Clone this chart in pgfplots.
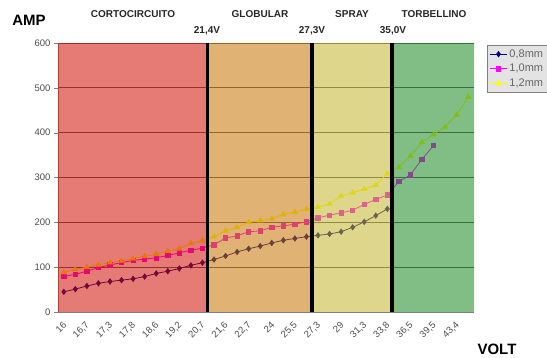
\documentclass[border=0pt]{standalone}
\usepackage{pgfplots}
\pgfplotsset{compat=1.18}
\usepackage{fontspec}
\setmainfont{Liberation Sans}
\definecolor{sA}{HTML}{000080}
\definecolor{sB}{HTML}{FF00FF}
\definecolor{sC}{HTML}{FFFF00}
\definecolor{rRed}{RGB}{209,13,2}
\definecolor{rOra}{RGB}{199,115,0}
\definecolor{rYel}{RGB}{195,181,42}
\definecolor{rGre}{RGB}{24,137,35}
\pgfplotsset{common/.style={
  at={(58pt,46pt)}, anchor=south west,
  scale only axis, width=416pt, height=269pt,
  xmin=0.5, xmax=36.5, ymin=0, ymax=600}}
\begin{document}
\begin{tikzpicture}[x=1pt,y=1pt]
\path[use as bounding box] (0,0) rectangle (547,358);
\begin{axis}[
  common,
  axis x line*=bottom, axis y line*=left,
  axis line style={gray},
  tick align=outside,
  xtick={1,3,...,35},
  xticklabels={16,{16,7},{17,3},{17,8},{18,6},{19,2},{20,7},{21,6},{22,7},24,{25,5},{27,3},29,{31,3},{33,8},{36,5},{39,5},{43,4}},
  minor xtick={0.5,1.5,...,36.5},
  x tick style={draw=none},
  minor x tick style={gray},
  minor tick length=4pt,
  ytick={0,100,...,600},
  y tick style={gray},
  major tick length=4pt,
  ymajorgrids, grid style={gray!70!black, line width=0.9pt},
  tick label style={font=\fontsize{9.5}{11}\selectfont, text=black!70},
  xticklabel style={rotate=45, anchor=east, inner sep=0.5pt, yshift=-6pt, xshift=-4pt},
  /pgf/number format/assume math mode=true,
  legend style={at={(1.031,0.993)}, anchor=north west, fill=gray!22, draw=gray,
    font=\fontsize{11}{13}\selectfont, text=black!60, row sep=1.5pt, inner sep=2.5pt},
  legend cell align=left,
]
\addplot[sA, line width=0.8pt, mark=diamond*, mark size=2.6pt, mark options={solid}] coordinates {
(1,45)(2,51)(3,58)(4,64)(5,68)(6,71)(7,74)(8,79)(9,86)(10,91)(11,97)(12,104)(13,110)
(14,117)(15,125)(16,134)(17,141)(18,147)(19,154)(20,160)(21,164)(22,168)
(23,171)(24,174)(25,179)(26,189)(27,201)(28,215)(29,230)};
\addlegendentry{0,8mm}
\addplot[sB, line width=0.8pt, mark=square*, mark size=2.2pt] coordinates {
(1,79)(2,84)(3,91)(4,99)(5,105)(6,110)(7,115)(8,118)(9,121)(10,126)(11,132)(12,138)(13,142)
(14,150)(15,165)(16,170)(17,179)(18,181)(19,189)(20,192)(21,196)(22,201)
(23,210)(24,216)(25,221)(26,227)(27,240)(28,251)(29,261)
(30,291)(31,306)(32,341)(33,371)};
\addlegendentry{1,0mm}
\addplot[sC, line width=0.8pt, mark=triangle*, mark size=2.8pt] coordinates {
(1,88)(2,95)(3,100)(4,105)(5,110)(6,114)(7,119)(8,124)(9,129)(10,136)(11,141)(12,153)(13,159)
(14,168)(15,181)(16,189)(17,200)(18,204)(19,208)(20,218)(21,223)(22,229)
(23,234)(24,241)(25,259)(26,266)(27,274)(28,283)(29,309)
(30,323)(31,348)(32,379)(33,396)(34,413)(35,440)(36,480)};
\addlegendentry{1,2mm}
\end{axis}
% overlay axis: semi-transparent zones drawn over the curves
\begin{axis}[common, hide axis]
\addplot[draw=none, fill=rRed, fill opacity=0.55] coordinates {(0.5,0)(0.5,600)(13.5,600)(13.5,0)} \closedcycle;
\addplot[draw=none, fill=rOra, fill opacity=0.55] coordinates {(13.5,0)(13.5,600)(22.5,600)(22.5,0)} \closedcycle;
\addplot[draw=none, fill=rYel, fill opacity=0.55] coordinates {(22.5,0)(22.5,600)(29.4,600)(29.4,0)} \closedcycle;
\addplot[draw=none, fill=rGre, fill opacity=0.55] coordinates {(29.4,0)(29.4,600)(36.5,600)(36.5,0)} \closedcycle;
\addplot[black, line width=3.5pt] coordinates {(13.45,0)(13.45,600)};
\addplot[black, line width=3.5pt] coordinates {(22.5,0)(22.5,600)};
\addplot[black, line width=3.5pt] coordinates {(29.4,0)(29.4,600)};
\end{axis}
\begin{scope}[every node/.style={font=\bfseries\fontsize{10}{12}\selectfont, text=black!85}]
\node at (133,344) {CORTOCIRCUITO};
\node at (260,344) {GLOBULAR};
\node at (352,344) {SPRAY};
\node at (434,344) {TORBELLINO};
\node at (207,327) {21,4V};
\node at (312,327) {27,3V};
\node at (393,327) {35,0V};
\end{scope}
\node[font=\bfseries\fontsize{15}{17}\selectfont] at (29,338) {AMP};
\node[font=\bfseries\fontsize{15}{17}\selectfont] at (497,9) {VOLT};
\end{tikzpicture}
\end{document}
